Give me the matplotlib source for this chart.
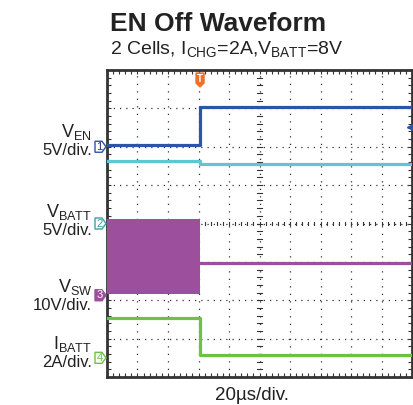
import numpy as np
import matplotlib
matplotlib.use('Agg')
import matplotlib.pyplot as plt
from matplotlib.patches import Polygon

plt.rcParams['font.family'] = ['Liberation Sans', 'DejaVu Sans']
plt.rcParams['mathtext.fontset'] = 'custom'
plt.rcParams['mathtext.rm'] = 'Liberation Sans'
plt.rcParams['mathtext.it'] = 'Liberation Sans'

# time axis in us, 20us/div, 10 divisions
t_step = 61.0
t_end = 200.0

# channel settings: ground marker position (div from bottom), scale per div
ch_names = ['V$_{\\mathrm{EN}}$', 'V$_{\\mathrm{BATT}}$', 'V$_{\\mathrm{SW}}$', 'I$_{\\mathrm{BATT}}$']
ch_scales = ['5V/div.', '5V/div.', '10V/div.', '2A/div.']
ch_offset = [6.0, 4.0, 2.13, 0.5]
ch_per_div = [5.0, 5.0, 10.0, 2.0]

# levels before / after EN goes off
ven = [0.2, 5.2]
vbatt = [8.2, 7.8]
vsw_low, vsw_high, vsw_after = 0.2, 19.8, 8.5
ibatt = [2.1, 0.15]

col_en = '#2b55a5'
col_batt = '#5fc6d6'
col_sw = '#9c4f9c'
col_ib = '#6cc245'
col_trig = '#f07028'


def to_div(val, ch):
    return ch_offset[ch] + val / ch_per_div[ch]


fig = plt.figure(figsize=(4.14, 4.05), dpi=100)
ax = fig.add_axes([107 / 414, 28 / 405, 305 / 414, 307 / 405])
ax.set_xlim(0, t_end)
ax.set_ylim(0, 8)

# grid
for k in range(1, 10):
    ax.axvline(k * 20, color='#333333', lw=0.9, ls=(0, (1, 5)), zorder=1)
for k in range(1, 8):
    ax.axhline(k, color='#333333', lw=0.9, ls=(0, (1, 4)), zorder=1)
# center cross ticks
for k in np.arange(0, 8.01, 0.2):
    ax.plot([98.6, 101.4], [k, k], color='#333333', lw=0.8, zorder=1)
for k in np.arange(0, 200.1, 4):
    ax.plot([k, k], [3.95, 4.05], color='#333333', lw=0.8, zorder=1)

ax.set_xticks(np.arange(0, 200.1, 4), minor=True)
ax.set_yticks(np.arange(0, 8.01, 0.2), minor=True)
ax.set_xticks([])
ax.set_yticks([])
ax.tick_params(which='minor', direction='in', length=3, width=0.8, color='#333333',
               top=True, right=True, bottom=True, left=True,
               labelbottom=False, labelleft=False)
for s in ax.spines.values():
    s.set_linewidth(2)
    s.set_color('#333333')

# traces
ax.plot([0, t_step, t_step, t_end], [to_div(ven[0], 0), to_div(ven[0], 0), to_div(ven[1], 0), to_div(ven[1], 0)],
        color=col_en, lw=2.3, zorder=5)
ax.plot([0, t_step, t_step, t_end], [to_div(vbatt[0], 1), to_div(vbatt[0], 1), to_div(vbatt[1], 1), to_div(vbatt[1], 1)],
        color=col_batt, lw=2.3, zorder=4)
ax.fill_between([0, t_step], to_div(vsw_low, 2), to_div(vsw_high, 2), color=col_sw, lw=0, zorder=3)
ax.plot([t_step, t_end], [to_div(vsw_after, 2)] * 2, color=col_sw, lw=2.3, zorder=3)
ax.plot([0, t_step, t_step, t_end], [to_div(ibatt[0], 3), to_div(ibatt[0], 3), to_div(ibatt[1], 3), to_div(ibatt[1], 3)],
        color=col_ib, lw=2.3, zorder=4)

# channel markers on left edge
px_w, px_h = 305.0, 307.0
mk_style = [('1', 'white', col_en, '#2a2f7a'), ('2', 'white', '#3aa3a0', '#3aa3a0'),
            ('3', col_sw, col_sw, 'white'), ('4', 'white', col_ib, col_ib)]
for ch, (lab, fc, ec, tc) in enumerate(mk_style):
    yc = ch_offset[ch] / 8.0
    hh = 5.5 / px_h
    pts = [(-12 / px_w, yc - hh), (-5 / px_w, yc - hh), (-1 / px_w, yc),
           (-5 / px_w, yc + hh), (-12 / px_w, yc + hh)]
    ax.add_patch(Polygon(pts, closed=True, transform=ax.transAxes, fc=fc, ec=ec, lw=1,
                         clip_on=False, zorder=6))
    ax.text(-7.5 / px_w, yc, lab, transform=ax.transAxes, fontsize=8, color=tc,
            ha='center', va='center', clip_on=False, zorder=7)

# trigger marker at top
tx = t_step / t_end
pts = [(tx - 4 / px_w, 1 - 3 / px_h), (tx + 4 / px_w, 1 - 3 / px_h), (tx + 4 / px_w, 1 - 13 / px_h),
       (tx, 1 - 17 / px_h), (tx - 4 / px_w, 1 - 13 / px_h)]
ax.add_patch(Polygon(pts, closed=True, transform=ax.transAxes, fc=col_trig, ec=col_trig, zorder=8))
ax.text(tx, 1 - 9 / px_h, 'T', transform=ax.transAxes, fontsize=7, color='white',
        ha='center', va='center', fontweight='bold', zorder=9)

# trigger level arrow on right
ax.annotate('', xy=(196.0, 6.5), xytext=(199.8, 6.5),
            arrowprops=dict(arrowstyle='-|>', color=col_en, lw=1.5, mutation_scale=9,
                            shrinkA=0, shrinkB=0), zorder=8)

# left channel labels
lab_base = [137, 217, 292, 349]
for ch in range(4):
    yb = 1 - lab_base[ch] / 405
    fig.text(92 / 414, yb, ch_names[ch], fontsize=13, ha='right', va='baseline', color='#222222')
    fig.text(92 / 414, yb - 18 / 405, ch_scales[ch], fontsize=12, ha='right', va='baseline', color='#222222')

fig.text(110 / 414, 1 - 31 / 405, 'EN Off Waveform', fontsize=19, fontweight='bold',
         ha='left', va='baseline', color='#222222')
fig.text(110 / 414, 1 - 54 / 405, '2 Cells, I$_{\\mathrm{CHG}}$=2A,V$_{\\mathrm{BATT}}$=8V', fontsize=14,
         ha='left', va='baseline', color='#222222')
fig.text(252 / 414, 1 - 400 / 405, '20\u00b5s/div.', fontsize=13.5, ha='center', va='baseline', color='#222222')

fig.savefig('out.png', dpi=100)
